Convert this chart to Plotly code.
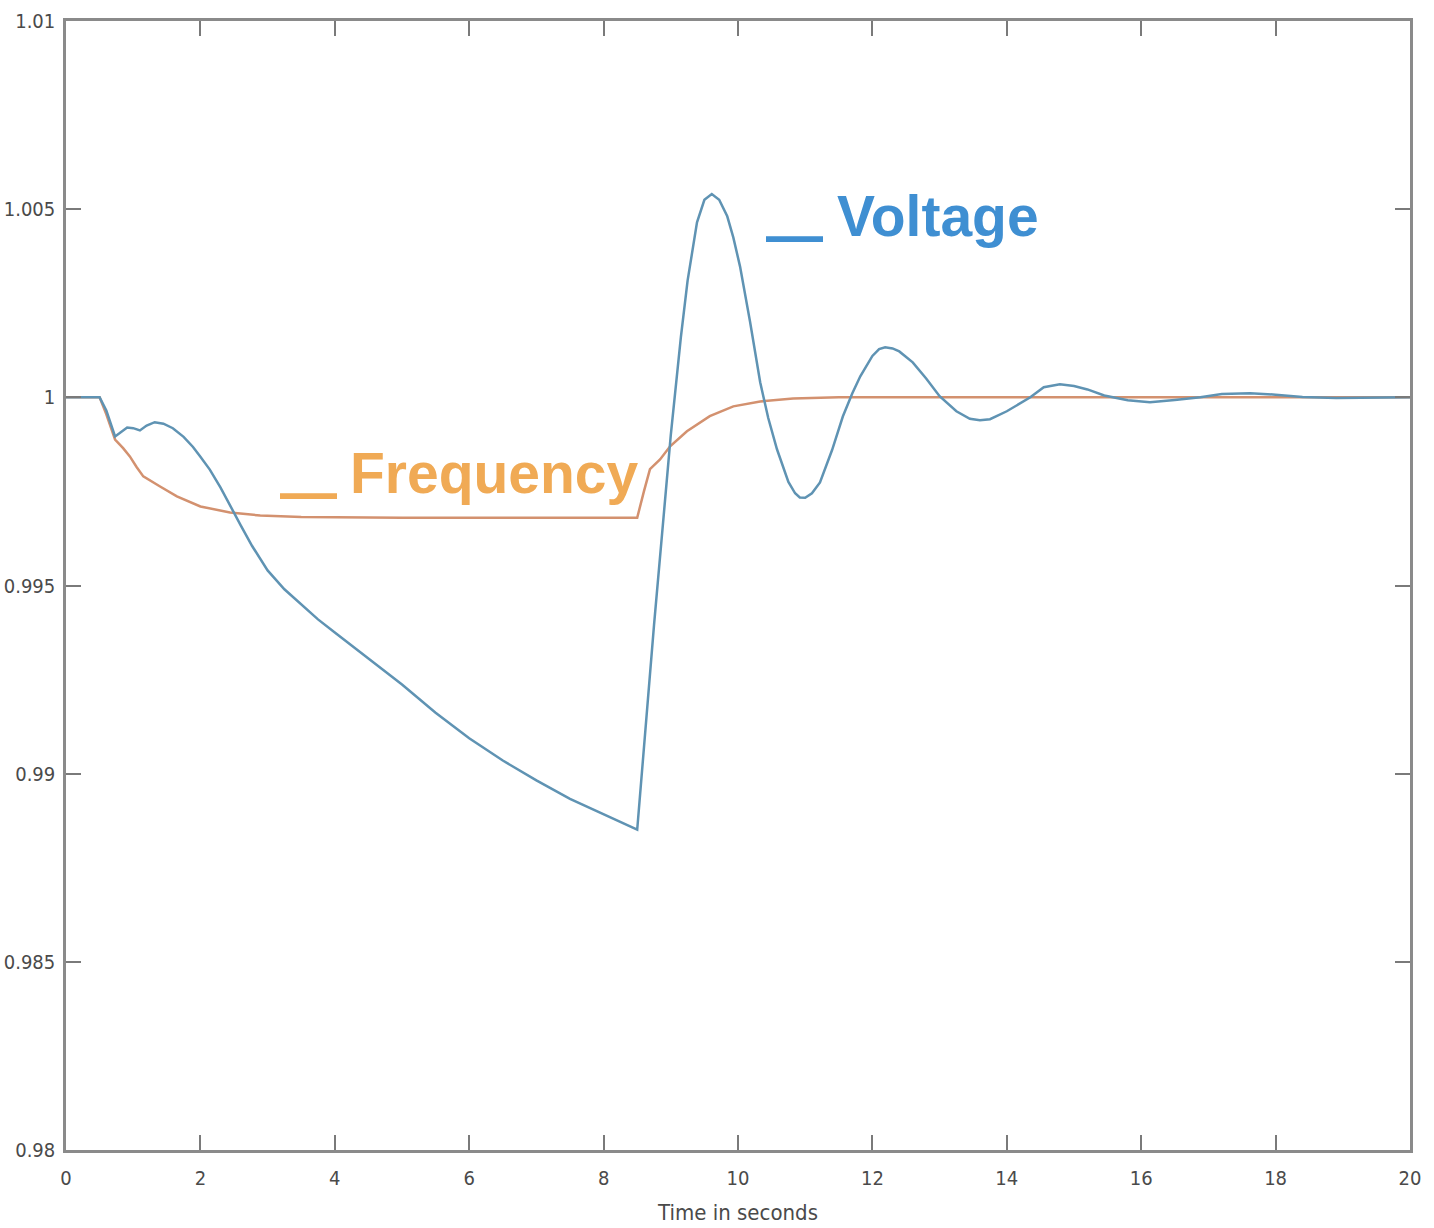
import plotly.graph_objects as go

# Voltage series (time in s, per-unit value)
volt_t = [0, 0.5, 0.6, 0.73, 0.8, 0.91, 1.0, 1.1, 1.2, 1.32, 1.45, 1.59, 1.75, 1.89, 2.0, 2.14,
          2.3, 2.44, 2.6, 2.77, 3.0, 3.25, 3.5, 3.75, 4.0, 4.5, 5.0, 5.5, 6.0, 6.5, 7.0, 7.5,
          8.0, 8.5, 8.75, 9.0, 9.15, 9.25, 9.39, 9.5, 9.61, 9.72, 9.84, 9.93, 10.03, 10.18,
          10.33, 10.45, 10.58, 10.75, 10.85, 10.92, 11.0, 11.1, 11.22, 11.4, 11.56, 11.7,
          11.82, 12.0, 12.1, 12.19, 12.3, 12.4, 12.6, 12.8, 13.0, 13.25, 13.45, 13.6, 13.75,
          13.9, 14.0, 14.35, 14.55, 14.79, 15.0, 15.2, 15.45, 15.8, 16.13, 16.5, 16.88, 17.2,
          17.62, 18.0, 18.4, 18.9, 19.5, 20.0]
volt_v = [1.0, 1.0, 0.99965, 0.99896, 0.99905, 0.99920, 0.99918, 0.99912, 0.99925, 0.99934,
          0.99930, 0.99918, 0.99895, 0.99868, 0.99842, 0.99808, 0.99760, 0.99712, 0.99660,
          0.99605, 0.99540, 0.99490, 0.99450, 0.99410, 0.99375, 0.99307, 0.99237, 0.99162,
          0.99094, 0.99035, 0.98982, 0.98933, 0.98891, 0.98851, 0.99394, 0.99900, 1.00160,
          1.00310, 1.00465, 1.00525, 1.00540, 1.00525, 1.00481, 1.00425, 1.00348, 1.00200,
          1.00040, 0.99945, 0.99862, 0.99775, 0.99745, 0.99734, 0.99733, 0.99745, 0.99774,
          0.99860, 0.99949, 1.00010, 1.00056, 1.00110, 1.00128, 1.00133, 1.00130, 1.00122,
          1.00093, 1.00050, 1.00003, 0.99963, 0.99943, 0.99939, 0.99942, 0.99955, 0.99963,
          1.00000, 1.00027, 1.00035, 1.00030, 1.00021, 1.00005, 0.99992, 0.99987, 0.99993,
          1.00000, 1.00009, 1.00011, 1.00007, 1.00001, 0.99998, 1.00000, 1.00000]

# Frequency series
freq_t = [0, 0.5, 0.6, 0.73, 0.85, 0.95, 1.05, 1.15, 1.4, 1.65, 2.0, 2.44, 2.89, 3.5, 5.0,
          7.0, 8.5, 8.6, 8.69, 8.84, 8.99, 9.24, 9.58, 9.93, 10.33, 10.82, 11.5, 20.0]
freq_v = [1.0, 1.0, 0.99955, 0.99888, 0.99865, 0.99843, 0.99815, 0.99790, 0.99763, 0.99737,
          0.99710, 0.99694, 0.99686, 0.99682, 0.99680, 0.99680, 0.99680, 0.99750, 0.99809,
          0.99835, 0.99870, 0.99910, 0.99950, 0.99976, 0.99989, 0.99997, 1.0, 1.0]

x_ticks = [0, 2, 4, 6, 8, 10, 12, 14, 16, 18, 20]
y_ticks = [0.98, 0.985, 0.99, 0.995, 1.0, 1.005, 1.01]
y_tick_text = ["0.98", "0.985", "0.99", "0.995", "1", "1.005", "1.01"]

FREQ_LINE = "#d3916f"
VOLT_LINE = "#5f93b3"
FREQ_TEXT = "#f0aa55"
VOLT_TEXT = "#3f8fd2"
LABEL_FONT = "Liberation Sans, Arial"

fig = go.Figure()
fig.add_trace(go.Scatter(x=freq_t, y=freq_v, mode="lines", name="Frequency",
                         line=dict(color=FREQ_LINE, width=2.5)))
fig.add_trace(go.Scatter(x=volt_t, y=volt_v, mode="lines", name="Voltage",
                         line=dict(color=VOLT_LINE, width=2.5)))

# in-plot labels: thick dash + bold name
fig.add_annotation(x=3.15, y=0.99798, xref="x", yref="y", text="<b>—</b>",
                   showarrow=False, xanchor="left", yanchor="middle", yshift=-19,
                   font=dict(family=LABEL_FONT, size=57, color=FREQ_TEXT))
fig.add_annotation(x=4.19, y=0.99798, xref="x", yref="y", text="<b>Frequency</b>",
                   showarrow=False, xanchor="left", yanchor="middle",
                   font=dict(family=LABEL_FONT, size=57, color=FREQ_TEXT))
fig.add_annotation(x=10.39, y=1.00481, xref="x", yref="y", text="<b>—</b>",
                   showarrow=False, xanchor="left", yanchor="middle", yshift=-19,
                   font=dict(family=LABEL_FONT, size=57, color=VOLT_TEXT))
fig.add_annotation(x=11.44, y=1.00481, xref="x", yref="y", text="<b>Voltage</b>",
                   showarrow=False, xanchor="left", yanchor="middle",
                   font=dict(family=LABEL_FONT, size=57, color=VOLT_TEXT))

tickfont = dict(family="Liberation Sans Narrow, DejaVu Sans Condensed, Arial", size=20, color="#4a4a4a")
axis_common = dict(showline=True, linecolor="#8a8a8a", linewidth=2.5, mirror="ticks",
                   ticks="inside", ticklen=15, tickwidth=2, tickcolor="#7a7a7a",
                   showgrid=False, zeroline=False, tickfont=tickfont, automargin=False)

fig.update_xaxes(range=[0, 20], tickvals=x_ticks, ticklabelstandoff=8,
                 title=dict(text="Time in seconds", standoff=16,
                            font=dict(family="Liberation Sans Narrow, DejaVu Sans Condensed, Arial",
                                      size=22, color="#4a4a4a")),
                 **axis_common)
fig.update_yaxes(range=[0.98, 1.01], tickvals=y_ticks, ticktext=y_tick_text,
                 ticklabelstandoff=4, **axis_common)

fig.update_layout(width=1434, height=1228, showlegend=False,
                  plot_bgcolor="white", paper_bgcolor="white",
                  margin=dict(l=66, r=24, t=21, b=78))

fig.write_html("out.html")
